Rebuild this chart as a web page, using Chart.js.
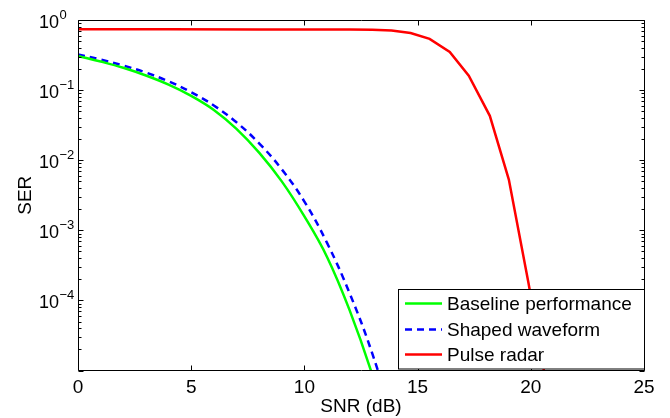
<!DOCTYPE html>
<html>
<head>
<meta charset="utf-8">
<script src="https://cdn.jsdelivr.net/npm/chart.js@4.4.1/dist/chart.umd.min.js"></script>
<style>
  html, body { margin: 0; padding: 0; background: #ffffff; }
  canvas { display: block; }
</style>
</head>
<body>
<canvas id="c" width="670" height="418"></canvas>
<script>
// ---- data ----
const snrBaseline = [0, 1, 2, 3, 4, 5, 6, 7, 8, 9, 10, 11, 12, 13, 14];
const serBaseline = [0.3076, 0.2559, 0.208, 0.1614, 0.1197, 0.0828, 0.0522, 0.02805, 0.01282, 0.00499, 0.001578, 4.17e-4, 7.21e-5, 8.67e-6, 6.9e-7];

const snrShaped = [0, 1, 2, 3, 4, 5, 6, 7, 8, 9, 10, 11, 12, 13, 14];
const serShaped = [0.3236, 0.2723, 0.2239, 0.1778, 0.1334, 0.0933, 0.0603, 0.0347, 0.01738, 0.00741, 0.00257, 6.61e-4, 1.26e-4, 1.74e-5, 1.55e-6];

const snrRadar = [0, 4, 8, 12, 13, 13.85, 14.69, 15.53, 16.42, 17.26, 18.19, 19.03, 19.9, 20.75];
const serRadar = [0.735, 0.735, 0.734, 0.732, 0.728, 0.71, 0.653, 0.537, 0.351, 0.16, 0.043, 0.0053, 1.76e-4, 4.8e-6];

const seriesLabels = ['Baseline performance', 'Shaped waveform', 'Pulse radar'];
const xTickValues = [0, 5, 10, 15, 20, 25];
const yTickExponents = [0, -1, -2, -3, -4];
const yDecadeExponents = [-5, -4, -3, -2, -1];
const xTitle = 'SNR (dB)';
const yTitle = 'SER';

const FONT = '"Liberation Sans", Arial, Helvetica, sans-serif';

function pts(xs, ys) { return xs.map((x, i) => ({ x: x, y: ys[i] })); }

const framePlugin = {
  id: 'matlabFrame',
  beforeDraw(chart) {
    const ctx = chart.ctx;
    ctx.save();
    ctx.fillStyle = '#ffffff';
    ctx.fillRect(0, 0, chart.width, chart.height);
    ctx.restore();
  },
  afterDraw(chart) {
    const ctx = chart.ctx;
    const a = chart.chartArea;
    const xs = chart.scales.x, ys = chart.scales.y;
    const L = Math.round(a.left) + 0.5, R = Math.round(a.right) + 0.5;
    const T = Math.round(a.top) + 0.5, B = Math.floor(a.bottom) + 0.5;
    ctx.save();
    ctx.strokeStyle = '#000000';
    ctx.lineWidth = 1;
    // x ticks (bottom & top, inward)
    ctx.beginPath();
    xTickValues.forEach(v => {
      const px = Math.round(xs.getPixelForValue(v)) + 0.5;
      ctx.moveTo(px, B); ctx.lineTo(px, B - 5);
      ctx.moveTo(px, T); ctx.lineTo(px, T + 5);
    });
    // y ticks: majors and minors (left & right, inward)
    yDecadeExponents.forEach(e => {
      for (let m = 1; m <= 9; m++) {
        const v = m * Math.pow(10, e);
        const py = Math.round(ys.getPixelForValue(v)) + 0.5;
        const len = (m === 1) ? 5 : 3;
        ctx.moveTo(L, py); ctx.lineTo(L + len, py);
        ctx.moveTo(R, py); ctx.lineTo(R - len, py);
      }
    });
    {
      const py = Math.round(ys.getPixelForValue(1)) + 0.5;
      ctx.moveTo(L, py); ctx.lineTo(L + 5, py);
      ctx.moveTo(R, py); ctx.lineTo(R - 5, py);
    }
    ctx.stroke();

    // frame
    ctx.beginPath();
    ctx.rect(L, T, R - L, B - T);
    ctx.stroke();

    // x tick labels
    ctx.fillStyle = '#000000';
    ctx.font = '19px ' + FONT;
    ctx.textAlign = 'center';
    ctx.textBaseline = 'alphabetic';
    xTickValues.forEach(v => {
      ctx.fillText(String(v), xs.getPixelForValue(v), B + 22.5);
    });
    // x title
    ctx.fillText(xTitle, (a.left + a.right) / 2, 412);

    // y tick labels: 10 with superscript exponent
    yTickExponents.forEach(e => {
      const py = ys.getPixelForValue(Math.pow(10, e));
      ctx.textAlign = 'left';
      ctx.font = '18px ' + FONT;
      ctx.fillText('10', 39, py + 8);
      const w = ctx.measureText('10').width;
      ctx.font = '13px ' + FONT;
      const exp = e < 0 ? '\u2212' + String(-e) : String(e);
      ctx.fillText(exp, 39 + w + 0.5, py - 1);
    });

    // y title
    ctx.save();
    ctx.font = '19px ' + FONT;
    ctx.translate(31, (a.top + a.bottom) / 2);
    ctx.rotate(-Math.PI / 2);
    ctx.textAlign = 'center';
    ctx.textBaseline = 'alphabetic';
    ctx.fillText(yTitle, 0, 0);
    ctx.restore();

    // legend box (inside plot, lower right)
    const bx = 398.5, by = 289.5, bw = R - bx, bh = 369 - by;
    ctx.fillStyle = '#ffffff';
    ctx.fillRect(bx, by, bw, bh);
    ctx.strokeStyle = '#000000';
    ctx.lineWidth = 1;
    ctx.strokeRect(bx, by, bw, bh);
    const baselines = [310, 336, 361];
    chart.data.datasets.forEach((ds, i) => {
      const ly = baselines[i] - 6.5;
      ctx.save();
      ctx.strokeStyle = ds.borderColor;
      ctx.lineWidth = ds.borderWidth;
      ctx.setLineDash(ds.borderDash || []);
      ctx.beginPath();
      ctx.moveTo(405, ly); ctx.lineTo(442, ly);
      ctx.stroke();
      ctx.restore();
      ctx.fillStyle = '#000000';
      ctx.font = '19px ' + FONT;
      ctx.textAlign = 'left';
      ctx.textBaseline = 'alphabetic';
      ctx.fillText(ds.label, 447, baselines[i]);
    });
    ctx.restore();
  }
};

new Chart(document.getElementById('c'), {
  type: 'line',
  data: {
    datasets: [
      {
        label: seriesLabels[0],
        data: pts(snrBaseline, serBaseline),
        borderColor: '#00ff00',
        borderWidth: 2.5,
        pointRadius: 0,
        tension: 0.4,
        fill: false,
        clip: 0
      },
      {
        label: seriesLabels[1],
        data: pts(snrShaped, serShaped),
        borderColor: '#0000ff',
        borderWidth: 2.5,
        borderDash: [7, 5],
        pointRadius: 0,
        tension: 0.4,
        fill: false,
        clip: 0
      },
      {
        label: seriesLabels[2],
        data: pts(snrRadar, serRadar),
        borderColor: '#ff0000',
        borderWidth: 2.5,
        pointRadius: 0,
        tension: 0,
        fill: false,
        clip: 0
      }
    ]
  },
  options: {
    responsive: false,
    devicePixelRatio: 1,
    animation: false,
    layout: { padding: { left: 78, top: 20, right: 26, bottom: 47.5 } },
    plugins: { legend: { display: false }, tooltip: { enabled: false } },
    scales: {
      x: { type: 'linear', min: 0, max: 25, display: false },
      y: { type: 'logarithmic', min: 1e-5, max: 1, display: false }
    }
  },
  plugins: [framePlugin]
});
</script>
</body>
</html>
